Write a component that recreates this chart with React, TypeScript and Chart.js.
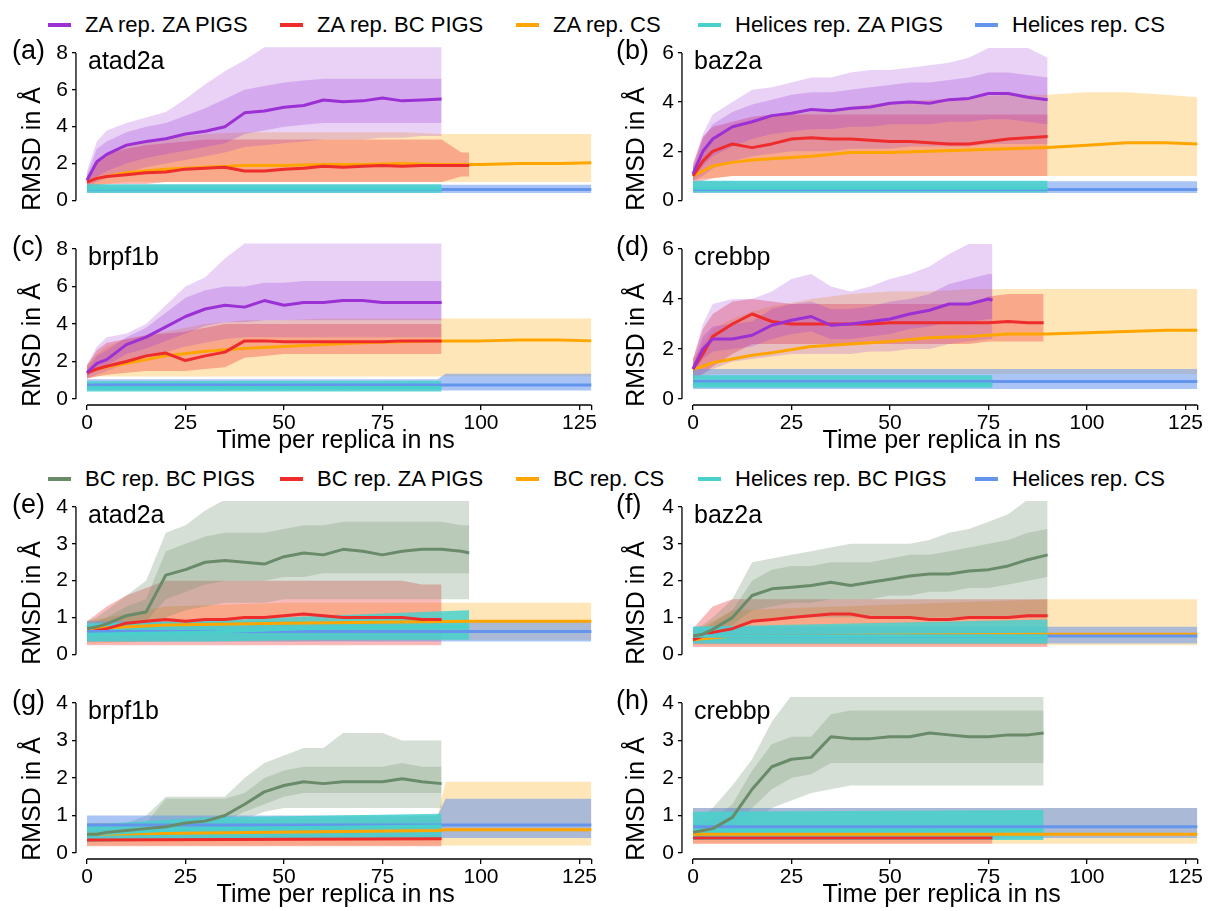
import React, { useEffect, useRef } from "react";
import { Chart, registerables } from "chart.js";
Chart.register(...registerables);

const FONT = '"Liberation Sans", Arial, Helvetica, sans-serif';

// ---------- axis / text data ----------
const X_TICKS = [0, 25, 50, 75, 100, 125];
const X_TICK_MARKS = [0, 25, 50, 75, 100, 125, 128];
const X_END = 128;
const Y_TICKS_8 = [0, 2, 4, 6, 8];
const Y_TICKS_6 = [0, 1, 2, 3, 4, 5, 6];
const Y_TICKS_4 = [0, 1, 2, 3, 4];
const X_TITLE = "Time per replica in ns";
const Y_TITLE = "RMSD in Å";
const LEGEND_TOP = ["ZA rep. ZA PIGS", "ZA rep. BC PIGS", "ZA rep. CS", "Helices rep. ZA PIGS", "Helices rep. CS"];
const LEGEND_BOTTOM = ["BC rep. BC PIGS", "BC rep. ZA PIGS", "BC rep. CS", "Helices rep. BC PIGS", "Helices rep. CS"];
const PANEL_LABELS = ["(a)", "(b)", "(c)", "(d)", "(e)", "(f)", "(g)", "(h)"];
const PANEL_NAMES = ["atad2a", "baz2a", "brpf1b", "crebbp", "atad2a", "baz2a", "brpf1b", "crebbp"];

// ---------- time grids (ns) ----------
const T90 = [0, 2.5, 5, 10, 15, 20, 25, 30, 35, 40, 45, 50, 55, 60, 65, 70, 75, 80, 85, 90];
const T97 = [0, 2.5, 5, 10, 15, 20, 25, 30, 35, 40, 45, 50, 55, 60, 65, 70, 75, 80, 85, 90, 95, 97];
const T76 = [0, 2.5, 5, 10, 15, 20, 25, 30, 35, 40, 45, 50, 55, 60, 65, 70, 75, 76];
const T89 = [0, 2.5, 5, 10, 15, 20, 25, 30, 35, 40, 45, 50, 55, 60, 65, 70, 75, 80, 85, 89];
const TCS = [0, 2.5, 5, 10, 15, 20, 30, 40, 50, 60, 70, 80, 90, 100, 110, 120, 128];

// ---------- (a) ZA, atad2a ----------
const A_ZA_MEAN = [1.1, 2.1, 2.5, 3.0, 3.2, 3.35, 3.6, 3.75, 4.0, 4.75, 4.85, 5.05, 5.15, 5.45, 5.35, 5.4, 5.55, 5.4, 5.45, 5.5];
const A_ZA_LO = [0.7, 1.0, 1.2, 1.5, 1.8, 2.0, 2.2, 2.4, 2.6, 2.9, 3.0, 3.1, 3.2, 3.3, 3.3, 3.3, 3.4, 3.4, 3.5, 3.5];
const A_ZA_HI = [1.6, 3.2, 3.8, 4.2, 4.5, 4.8, 5.5, 6.3, 7.0, 7.6, 8.3, 8.3, 8.3, 8.3, 8.3, 8.3, 8.3, 8.3, 8.3, 8.3];
const A_ZA_LO2 = [0.8, 1.3, 1.6, 2.0, 2.3, 2.5, 2.7, 2.9, 3.1, 3.6, 3.8, 4.0, 4.1, 4.2, 4.2, 4.2, 4.2, 4.2, 4.2, 4.2];
const A_ZA_HI2 = [1.4, 2.8, 3.2, 3.7, 4.0, 4.2, 4.6, 5.0, 5.5, 6.0, 6.2, 6.4, 6.5, 6.6, 6.6, 6.6, 6.6, 6.6, 6.6, 6.6];
const A_BC_MEAN = [1.0, 1.2, 1.3, 1.4, 1.5, 1.55, 1.7, 1.75, 1.8, 1.6, 1.6, 1.7, 1.75, 1.85, 1.8, 1.85, 1.9, 1.85, 1.9, 1.9, 1.9, 1.9];
const A_BC_LO = [0.7, 0.8, 0.9, 0.9, 0.9, 1.0, 1.0, 1.0, 1.0, 1.0, 1.0, 1.0, 1.0, 1.0, 1.0, 1.0, 1.0, 1.0, 1.0, 1.0, 1.3, 1.3];
const A_BC_HI = [1.3, 2.0, 2.5, 2.8, 3.0, 3.1, 3.2, 3.3, 3.3, 3.3, 3.3, 3.3, 3.3, 3.3, 3.3, 3.3, 3.3, 3.3, 3.3, 3.3, 2.6, 2.6];
const A_CS_MEAN = [1.0, 1.2, 1.3, 1.5, 1.6, 1.7, 1.8, 1.9, 1.9, 1.95, 1.95, 2.0, 1.95, 1.95, 2.0, 2.0, 2.05];
const A_CS_LO = [0.7, 0.8, 0.9, 1.0, 1.0, 1.0, 1.0, 1.0, 1.0, 1.0, 1.0, 1.0, 1.0, 1.0, 1.0, 1.0, 1.0];
const A_CS_HI = [1.3, 2.0, 2.5, 3.0, 3.2, 3.4, 3.6, 3.7, 3.7, 3.7, 3.7, 3.7, 3.6, 3.6, 3.6, 3.6, 3.6];
const A_HP_T = [0, 90];
const A_HP_MEAN = [0.62, 0.62];
const A_HP_LO = [0.42, 0.42];
const A_HP_HI = [0.88, 0.88];
const A_HC_T = [0, 128];
const A_HC_MEAN = [0.6, 0.6];
const A_HC_LO = [0.4, 0.4];
const A_HC_HI = [0.85, 0.85];

// ---------- (b) ZA, baz2a ----------
const B_ZA_MEAN = [1.08, 2.0, 2.5, 3.0, 3.2, 3.45, 3.55, 3.7, 3.65, 3.75, 3.8, 3.95, 4.0, 3.95, 4.1, 4.15, 4.35, 4.35, 4.2, 4.1];
const B_ZA_LO = [0.8, 1.0, 1.3, 1.6, 1.8, 1.9, 2.0, 2.0, 2.0, 2.1, 2.1, 2.1, 2.2, 2.2, 2.2, 2.2, 2.3, 2.3, 2.3, 2.3];
const B_ZA_HI = [1.4, 2.7, 3.5, 4.0, 4.5, 4.6, 4.8, 5.0, 5.0, 5.2, 5.3, 5.3, 5.4, 5.5, 5.6, 5.8, 6.2, 6.2, 6.2, 5.8];
const B_ZA_LO2 = [0.9, 1.4, 1.8, 2.2, 2.5, 2.7, 2.8, 2.9, 2.9, 3.0, 3.0, 3.1, 3.1, 3.1, 3.2, 3.2, 3.3, 3.3, 3.2, 3.1];
const B_ZA_HI2 = [1.3, 2.5, 3.1, 3.6, 3.9, 4.1, 4.3, 4.4, 4.4, 4.5, 4.6, 4.7, 4.8, 4.8, 4.9, 5.0, 5.2, 5.2, 5.1, 5.0];
const B_BC_MEAN = [1.0, 1.6, 2.0, 2.3, 2.15, 2.3, 2.5, 2.55, 2.5, 2.5, 2.45, 2.4, 2.4, 2.35, 2.3, 2.3, 2.4, 2.5, 2.55, 2.6];
const B_BC_LO = [0.7, 0.8, 0.9, 1.0, 1.0, 1.0, 1.0, 1.0, 1.0, 1.0, 1.0, 1.0, 1.0, 1.0, 1.0, 1.0, 1.0, 1.0, 1.0, 1.0];
const B_BC_HI = [1.5, 2.6, 3.0, 3.2, 3.4, 3.5, 3.5, 3.5, 3.5, 3.5, 3.5, 3.5, 3.5, 3.5, 3.5, 3.5, 3.5, 3.5, 3.5, 3.5];
const B_CS_MEAN = [1.0, 1.2, 1.4, 1.55, 1.65, 1.7, 1.8, 1.95, 1.95, 2.0, 2.05, 2.1, 2.15, 2.25, 2.35, 2.35, 2.3];
const B_CS_LO = [0.8, 0.9, 0.9, 1.0, 1.0, 1.0, 1.0, 1.0, 1.0, 1.0, 1.0, 1.0, 1.0, 1.0, 1.0, 1.0, 1.0];
const B_CS_HI = [1.3, 2.0, 2.6, 3.0, 3.2, 3.4, 3.6, 3.8, 4.0, 4.1, 4.2, 4.3, 4.3, 4.4, 4.4, 4.3, 4.2];
const B_HP_T = [0, 90];
const B_HP_MEAN = [0.5, 0.5];
const B_HP_LO = [0.33, 0.33];
const B_HP_HI = [0.8, 0.8];
const B_HC_T = [0, 128];
const B_HC_MEAN = [0.45, 0.45];
const B_HC_LO = [0.3, 0.3];
const B_HC_HI = [0.78, 0.78];

// ---------- (c) ZA, brpf1b ----------
const C_ZA_MEAN = [1.4, 1.9, 2.1, 2.9, 3.3, 3.85, 4.4, 4.8, 5.0, 4.9, 5.25, 5.0, 5.15, 5.15, 5.25, 5.25, 5.15, 5.15, 5.15, 5.15];
const C_ZA_LO = [1.1, 1.3, 1.5, 1.9, 2.2, 2.5, 2.8, 3.0, 3.2, 3.3, 3.3, 3.3, 3.3, 3.3, 3.3, 3.3, 3.3, 3.3, 3.3, 3.3];
const C_ZA_HI = [1.8, 2.8, 3.3, 3.5, 4.0, 5.0, 6.0, 6.5, 7.5, 8.3, 8.3, 8.3, 8.3, 8.3, 8.3, 8.3, 8.3, 8.3, 8.3, 8.3];
const C_ZA_LO2 = [1.2, 1.6, 1.8, 2.4, 2.7, 3.1, 3.5, 3.9, 4.1, 4.1, 4.2, 4.2, 4.2, 4.2, 4.2, 4.2, 4.2, 4.2, 4.2, 4.2];
const C_ZA_HI2 = [1.6, 2.3, 2.6, 3.3, 3.8, 4.6, 5.4, 5.8, 6.0, 6.0, 6.2, 6.2, 6.3, 6.3, 6.3, 6.3, 6.3, 6.3, 6.3, 6.3];
const C_BC_MEAN = [1.4, 1.6, 1.75, 2.0, 2.3, 2.45, 2.05, 2.3, 2.5, 3.1, 3.1, 3.05, 3.05, 3.05, 3.05, 3.05, 3.05, 3.1, 3.1, 3.1];
const C_BC_LO = [1.1, 1.2, 1.3, 1.4, 1.5, 1.5, 1.5, 1.6, 1.7, 2.2, 2.3, 2.4, 2.4, 2.4, 2.4, 2.4, 2.4, 2.4, 2.4, 2.4];
const C_BC_HI = [1.8, 2.6, 3.0, 3.2, 3.4, 3.5, 3.6, 3.8, 4.0, 4.0, 4.0, 4.0, 4.0, 4.0, 4.0, 4.0, 4.0, 4.0, 4.0, 4.0];
const C_CS_MEAN = [1.4, 1.6, 1.7, 1.9, 2.1, 2.3, 2.55, 2.7, 2.8, 2.9, 3.0, 3.05, 3.1, 3.1, 3.15, 3.15, 3.1];
const C_CS_LO = [1.1, 1.2, 1.2, 1.2, 1.2, 1.2, 1.2, 1.2, 1.2, 1.2, 1.2, 1.2, 1.2, 1.2, 1.2, 1.2, 1.2];
const C_CS_HI = [1.8, 2.4, 2.8, 3.2, 3.4, 3.6, 4.0, 4.2, 4.2, 4.3, 4.3, 4.3, 4.3, 4.3, 4.3, 4.3, 4.3];
const C_HP_T = [0, 90];
const C_HP_MEAN = [0.6, 0.62];
const C_HP_LO = [0.4, 0.4];
const C_HP_HI = [0.95, 0.98];
const C_HC_T = [0, 89, 91, 128];
const C_HC_MEAN = [0.75, 0.75, 0.75, 0.75];
const C_HC_LO = [0.45, 0.45, 0.45, 0.45];
const C_HC_HI = [1.05, 1.05, 1.35, 1.35];

// ---------- (d) ZA, crebbp ----------
const D_ZA_MEAN = [1.2, 2.0, 2.4, 2.4, 2.55, 2.95, 3.15, 3.3, 2.95, 3.0, 3.1, 3.2, 3.4, 3.55, 3.8, 3.8, 4.0, 3.95];
const D_ZA_LO = [0.8, 1.0, 1.2, 1.5, 1.6, 1.7, 1.8, 1.8, 1.8, 1.8, 1.9, 1.9, 2.0, 2.0, 2.2, 2.3, 2.4, 2.4];
const D_ZA_HI = [1.6, 3.0, 3.8, 4.0, 4.0, 4.3, 4.8, 5.0, 4.5, 4.3, 4.5, 4.8, 5.0, 5.3, 5.8, 6.2, 6.2, 6.2];
const D_ZA_LO2 = [1.0, 1.6, 1.9, 2.0, 2.1, 2.4, 2.6, 2.7, 2.4, 2.4, 2.5, 2.6, 2.8, 2.9, 3.1, 3.1, 3.2, 3.2];
const D_ZA_HI2 = [1.4, 2.5, 2.9, 3.0, 3.1, 3.6, 3.8, 3.9, 3.6, 3.6, 3.7, 3.9, 4.0, 4.2, 4.6, 4.8, 5.0, 5.0];
const D_BC_MEAN = [1.2, 1.8, 2.5, 3.0, 3.4, 3.1, 3.0, 3.0, 3.0, 3.0, 3.0, 3.05, 3.05, 3.05, 3.05, 3.05, 3.05, 3.1, 3.05, 3.05];
const D_BC_LO = [0.8, 1.0, 1.3, 1.8, 2.2, 2.2, 2.2, 2.2, 2.2, 2.2, 2.2, 2.2, 2.2, 2.2, 2.2, 2.2, 2.3, 2.3, 2.3, 2.3];
const D_BC_HI = [1.6, 2.8, 3.4, 3.9, 4.0, 3.9, 3.8, 3.8, 3.8, 3.8, 3.8, 3.8, 3.8, 3.8, 3.8, 3.8, 4.1, 4.2, 4.2, 4.2];
const D_CS_MEAN = [1.2, 1.3, 1.45, 1.6, 1.75, 1.85, 2.1, 2.2, 2.3, 2.45, 2.5, 2.6, 2.6, 2.65, 2.7, 2.75, 2.75];
const D_CS_LO = [0.8, 0.9, 1.0, 1.0, 1.0, 1.0, 1.0, 1.0, 1.0, 1.0, 1.0, 1.0, 1.0, 1.0, 1.0, 1.0, 1.0];
const D_CS_HI = [1.6, 2.2, 2.8, 3.2, 3.5, 3.7, 4.0, 4.2, 4.3, 4.3, 4.4, 4.4, 4.4, 4.4, 4.4, 4.4, 4.4];
const D_HP_T = [0, 76];
const D_HP_MEAN = [0.6, 0.6];
const D_HP_LO = [0.45, 0.45];
const D_HP_HI = [0.95, 0.95];
const D_HC_T = [0, 128];
const D_HC_MEAN = [0.7, 0.7];
const D_HC_LO = [0.4, 0.4];
const D_HC_HI = [1.2, 1.2];

// ---------- (e) BC, atad2a ----------
const E_BC_MEAN = [0.7, 0.75, 0.83, 1.05, 1.15, 2.15, 2.3, 2.5, 2.55, 2.5, 2.45, 2.65, 2.75, 2.7, 2.85, 2.8, 2.7, 2.8, 2.85, 2.85, 2.8, 2.75];
const E_BC_LO = [0.5, 0.5, 0.55, 0.6, 0.6, 1.0, 1.2, 1.3, 1.4, 1.4, 1.4, 1.5, 1.5, 1.5, 1.5, 1.5, 1.5, 1.5, 1.5, 1.5, 1.5, 1.5];
const E_BC_HI = [0.9, 1.0, 1.2, 1.6, 2.0, 3.3, 3.5, 3.9, 4.2, 4.2, 4.2, 4.2, 4.2, 4.2, 4.2, 4.2, 4.2, 4.2, 4.2, 4.2, 4.2, 4.2];
const E_BC_LO2 = [0.6, 0.6, 0.7, 0.8, 0.9, 1.5, 1.7, 1.9, 2.0, 2.0, 2.0, 2.1, 2.1, 2.2, 2.2, 2.2, 2.2, 2.2, 2.2, 2.2, 2.2, 2.2];
const E_BC_HI2 = [0.8, 0.9, 1.0, 1.3, 1.5, 2.8, 3.0, 3.2, 3.3, 3.3, 3.3, 3.4, 3.5, 3.5, 3.6, 3.6, 3.6, 3.6, 3.6, 3.6, 3.5, 3.5];
const E_ZA_MEAN = [0.6, 0.65, 0.7, 0.85, 0.9, 0.95, 0.9, 0.95, 0.95, 1.0, 1.0, 1.05, 1.1, 1.05, 1.0, 1.0, 1.0, 1.0, 0.95, 0.95];
const E_ZA_LO = [0.25, 0.25, 0.25, 0.25, 0.25, 0.25, 0.25, 0.25, 0.25, 0.25, 0.25, 0.25, 0.25, 0.25, 0.25, 0.25, 0.25, 0.25, 0.25, 0.25];
const E_ZA_HI = [0.9, 1.1, 1.3, 1.6, 1.8, 2.0, 2.0, 2.0, 2.0, 2.0, 2.0, 2.0, 2.0, 2.0, 2.0, 2.0, 2.0, 2.0, 1.9, 1.9];
const E_CS_T = [0, 20, 50, 97, 128];
const E_CS_MEAN = [0.7, 0.8, 0.85, 0.9, 0.9];
const E_CS_LO = [0.3, 0.35, 0.35, 0.4, 0.4];
const E_CS_HI = [0.9, 1.3, 1.4, 1.4, 1.4];
const E_HP_T = [0, 30, 60, 97];
const E_HP_MEAN = [0.55, 0.6, 0.72, 0.75];
const E_HP_LO = [0.35, 0.35, 0.4, 0.4];
const E_HP_HI = [0.85, 0.9, 1.05, 1.2];
const E_HC_T = [0, 128];
const E_HC_MEAN = [0.62, 0.62];
const E_HC_LO = [0.35, 0.35];
const E_HC_HI = [0.9, 0.9];

// ---------- (f) BC, baz2a ----------
const F_BC_MEAN = [0.5, 0.55, 0.68, 1.0, 1.6, 1.78, 1.82, 1.87, 1.96, 1.87, 1.96, 2.04, 2.13, 2.18, 2.18, 2.26, 2.3, 2.4, 2.57, 2.7];
const F_BC_LO = [0.35, 0.4, 0.45, 0.6, 0.9, 1.0, 1.0, 1.0, 1.0, 1.0, 1.0, 1.0, 1.0, 1.0, 1.0, 1.0, 1.0, 1.0, 1.0, 1.0];
const F_BC_HI = [0.7, 0.8, 1.0, 1.5, 2.5, 2.6, 2.7, 2.8, 2.9, 3.0, 3.0, 3.0, 3.0, 3.1, 3.3, 3.4, 3.6, 3.8, 4.2, 4.2];
const F_BC_LO2 = [0.4, 0.45, 0.55, 0.8, 1.2, 1.3, 1.4, 1.4, 1.5, 1.5, 1.5, 1.6, 1.6, 1.7, 1.7, 1.8, 1.8, 1.9, 2.0, 2.1];
const F_BC_HI2 = [0.6, 0.7, 0.85, 1.2, 2.0, 2.3, 2.4, 2.4, 2.5, 2.5, 2.5, 2.6, 2.7, 2.7, 2.8, 2.9, 3.0, 3.1, 3.3, 3.4];
const F_ZA_MEAN = [0.4, 0.5, 0.6, 0.7, 0.9, 0.95, 1.0, 1.05, 1.1, 1.1, 1.0, 1.0, 1.0, 0.95, 0.95, 1.0, 1.0, 1.0, 1.05, 1.05];
const F_ZA_LO = [0.2, 0.2, 0.2, 0.2, 0.2, 0.2, 0.2, 0.2, 0.2, 0.2, 0.2, 0.2, 0.2, 0.2, 0.2, 0.2, 0.2, 0.2, 0.2, 0.2];
const F_ZA_HI = [0.7, 1.0, 1.3, 1.5, 1.5, 1.5, 1.5, 1.5, 1.5, 1.5, 1.5, 1.5, 1.5, 1.5, 1.5, 1.5, 1.5, 1.5, 1.5, 1.5];
const F_CS_T = [0, 10, 90, 128];
const F_CS_MEAN = [0.4, 0.5, 0.55, 0.55];
const F_CS_LO = [0.25, 0.25, 0.25, 0.25];
const F_CS_HI = [0.6, 1.2, 1.5, 1.5];
const F_HP_T = [0, 90];
const F_HP_MEAN = [0.5, 0.5];
const F_HP_LO = [0.3, 0.3];
const F_HP_HI = [0.75, 0.95];
const F_HC_T = [0, 128];
const F_HC_MEAN = [0.5, 0.5];
const F_HC_LO = [0.3, 0.3];
const F_HC_HI = [0.75, 0.75];

// ---------- (g) BC, brpf1b ----------
const G_BC_MEAN = [0.5, 0.5, 0.55, 0.6, 0.65, 0.7, 0.8, 0.85, 1.0, 1.3, 1.63, 1.8, 1.9, 1.85, 1.9, 1.9, 1.9, 1.98, 1.9, 1.85];
const G_BC_LO = [0.3, 0.3, 0.35, 0.35, 0.4, 0.4, 0.4, 0.4, 0.5, 0.9, 1.1, 1.2, 1.2, 1.2, 1.2, 1.2, 1.2, 1.2, 1.2, 1.2];
const G_BC_HI = [0.8, 0.8, 0.8, 0.8, 1.0, 1.5, 1.5, 1.5, 1.5, 2.0, 2.4, 2.6, 2.8, 2.8, 3.2, 3.2, 3.2, 3.0, 3.0, 3.0];
const G_BC_LO2 = [0.4, 0.4, 0.45, 0.5, 0.55, 0.6, 0.7, 0.75, 0.85, 1.1, 1.3, 1.5, 1.6, 1.6, 1.6, 1.6, 1.6, 1.6, 1.6, 1.6];
const G_BC_HI2 = [0.6, 0.6, 0.65, 0.7, 0.8, 1.45, 1.45, 1.45, 1.45, 1.6, 2.0, 2.2, 2.3, 2.3, 2.3, 2.3, 2.3, 2.4, 2.3, 2.3];
const G_ZA_T = [0, 90];
const G_ZA_MEAN = [0.35, 0.38];
const G_ZA_LO = [0.18, 0.18];
const G_ZA_HI = [0.6, 0.9];
const G_CS_T = [0, 89, 91, 128];
const G_CS_MEAN = [0.5, 0.6, 0.62, 0.62];
const G_CS_LO = [0.2, 0.2, 0.2, 0.2];
const G_CS_HI = [0.8, 1.0, 1.9, 1.9];
const G_HP_T = [0, 30, 90];
const G_HP_MEAN = [0.5, 0.65, 0.72];
const G_HP_LO = [0.3, 0.35, 0.4];
const G_HP_HI = [0.75, 0.95, 1.05];
const G_HC_T = [0, 89, 91, 128];
const G_HC_MEAN = [0.75, 0.75, 0.75, 0.75];
const G_HC_LO = [0.4, 0.4, 0.4, 0.4];
const G_HC_HI = [1.0, 1.0, 1.45, 1.45];

// ---------- (h) BC, crebbp ----------
const H_BC_MEAN = [0.55, 0.6, 0.65, 0.95, 1.7, 2.3, 2.5, 2.55, 3.1, 3.05, 3.05, 3.1, 3.1, 3.2, 3.15, 3.1, 3.1, 3.15, 3.15, 3.2];
const H_BC_LO = [0.4, 0.4, 0.4, 0.5, 0.8, 1.2, 1.4, 1.6, 1.7, 1.8, 1.8, 1.8, 1.8, 1.8, 1.8, 1.8, 1.8, 1.8, 1.8, 1.8];
const H_BC_HI = [0.8, 1.0, 1.2, 1.8, 2.5, 3.5, 4.2, 4.2, 4.2, 4.2, 4.2, 4.2, 4.2, 4.2, 4.2, 4.2, 4.2, 4.2, 4.2, 4.2];
const H_BC_LO2 = [0.45, 0.5, 0.55, 0.7, 1.2, 1.7, 2.0, 2.1, 2.4, 2.4, 2.4, 2.4, 2.4, 2.4, 2.4, 2.4, 2.4, 2.4, 2.4, 2.4];
const H_BC_HI2 = [0.7, 0.8, 0.9, 1.3, 2.2, 2.9, 3.1, 3.1, 3.7, 3.8, 3.8, 3.8, 3.8, 3.8, 3.8, 3.8, 3.8, 3.8, 3.8, 3.8];
const H_ZA_T = [0, 76];
const H_ZA_MEAN = [0.4, 0.4];
const H_ZA_LO = [0.25, 0.25];
const H_ZA_HI = [0.55, 0.55];
const H_CS_T = [0, 128];
const H_CS_MEAN = [0.5, 0.5];
const H_CS_LO = [0.25, 0.25];
const H_CS_HI = [1.2, 1.2];
const H_HP_T = [0, 89];
const H_HP_MEAN = [0.6, 0.62];
const H_HP_LO = [0.35, 0.35];
const H_HP_HI = [1.1, 1.15];
const H_HC_T = [0, 128];
const H_HC_MEAN = [0.7, 0.7];
const H_HC_LO = [0.4, 0.4];
const H_HC_HI = [1.2, 1.2];

// ---------- styles ----------
const PURPLE = "#9b30d4";
const RED = "#ee2c2c";
const ORANGE = "#ffa500";
const CYAN = "#48d1cc";
const BLUE = "#6495ed";
const GREEN = "#698b69";
const BAND = {
  purple: "rgba(155,48,212,0.22)",
  purple2: "rgba(155,48,212,0.25)",
  red: "rgba(238,44,44,0.33)",
  orange: "rgba(255,165,0,0.28)",
  cyan: "rgba(72,209,204,0.85)",
  blue: "rgba(100,149,237,0.55)",
  green: "rgba(105,139,105,0.28)",
  green2: "rgba(105,139,105,0.25)",
};
const LEGEND_COLORS_TOP = [PURPLE, RED, ORANGE, CYAN, BLUE];
const LEGEND_COLORS_BOTTOM = [GREEN, RED, ORANGE, CYAN, BLUE];

type Series = { color: string; band: string; t: number[]; mean: number[]; lo: number[]; hi: number[]; band2?: string; lo2?: number[]; hi2?: number[] };
const ser = (color: string, band: string, t: number[], mean: number[], lo: number[], hi: number[], band2?: string, lo2?: number[], hi2?: number[]): Series =>
  ({ color, band, t, mean, lo, hi, band2, lo2, hi2 });

type Panel = { idx: number; col: number; yM: number; yMax: number; yTicks: number[]; showX: boolean; series: Series[] };

// series listed bottom -> top: CS, other PIGS, main PIGS, helices CS, helices PIGS
const PANELS: Panel[] = [
  { idx: 0, col: 0, yM: 53, yMax: 8, yTicks: Y_TICKS_8, showX: false, series: [
    ser(ORANGE, BAND.orange, TCS, A_CS_MEAN, A_CS_LO, A_CS_HI),
    ser(RED, BAND.red, T97, A_BC_MEAN, A_BC_LO, A_BC_HI),
    ser(PURPLE, BAND.purple, T90, A_ZA_MEAN, A_ZA_LO, A_ZA_HI, BAND.purple2, A_ZA_LO2, A_ZA_HI2),
    ser(BLUE, BAND.blue, A_HC_T, A_HC_MEAN, A_HC_LO, A_HC_HI),
    ser(CYAN, BAND.cyan, A_HP_T, A_HP_MEAN, A_HP_LO, A_HP_HI),
  ] },
  { idx: 1, col: 1, yM: 53, yMax: 6, yTicks: Y_TICKS_6, showX: false, series: [
    ser(ORANGE, BAND.orange, TCS, B_CS_MEAN, B_CS_LO, B_CS_HI),
    ser(RED, BAND.red, T90, B_BC_MEAN, B_BC_LO, B_BC_HI),
    ser(PURPLE, BAND.purple, T90, B_ZA_MEAN, B_ZA_LO, B_ZA_HI, BAND.purple2, B_ZA_LO2, B_ZA_HI2),
    ser(BLUE, BAND.blue, B_HC_T, B_HC_MEAN, B_HC_LO, B_HC_HI),
    ser(CYAN, BAND.cyan, B_HP_T, B_HP_MEAN, B_HP_LO, B_HP_HI),
  ] },
  { idx: 2, col: 0, yM: 249, yMax: 8, yTicks: Y_TICKS_8, showX: true, series: [
    ser(ORANGE, BAND.orange, TCS, C_CS_MEAN, C_CS_LO, C_CS_HI),
    ser(RED, BAND.red, T90, C_BC_MEAN, C_BC_LO, C_BC_HI),
    ser(PURPLE, BAND.purple, T90, C_ZA_MEAN, C_ZA_LO, C_ZA_HI, BAND.purple2, C_ZA_LO2, C_ZA_HI2),
    ser(BLUE, BAND.blue, C_HC_T, C_HC_MEAN, C_HC_LO, C_HC_HI),
    ser(CYAN, BAND.cyan, C_HP_T, C_HP_MEAN, C_HP_LO, C_HP_HI),
  ] },
  { idx: 3, col: 1, yM: 249, yMax: 6, yTicks: Y_TICKS_6, showX: true, series: [
    ser(ORANGE, BAND.orange, TCS, D_CS_MEAN, D_CS_LO, D_CS_HI),
    ser(RED, BAND.red, T89, D_BC_MEAN, D_BC_LO, D_BC_HI),
    ser(PURPLE, BAND.purple, T76, D_ZA_MEAN, D_ZA_LO, D_ZA_HI, BAND.purple2, D_ZA_LO2, D_ZA_HI2),
    ser(BLUE, BAND.blue, D_HC_T, D_HC_MEAN, D_HC_LO, D_HC_HI),
    ser(CYAN, BAND.cyan, D_HP_T, D_HP_MEAN, D_HP_LO, D_HP_HI),
  ] },
  { idx: 4, col: 0, yM: 507, yMax: 4, yTicks: Y_TICKS_4, showX: false, series: [
    ser(ORANGE, BAND.orange, E_CS_T, E_CS_MEAN, E_CS_LO, E_CS_HI),
    ser(RED, BAND.red, T90, E_ZA_MEAN, E_ZA_LO, E_ZA_HI),
    ser(GREEN, BAND.green, T97, E_BC_MEAN, E_BC_LO, E_BC_HI, BAND.green2, E_BC_LO2, E_BC_HI2),
    ser(BLUE, BAND.blue, E_HC_T, E_HC_MEAN, E_HC_LO, E_HC_HI),
    ser(CYAN, BAND.cyan, E_HP_T, E_HP_MEAN, E_HP_LO, E_HP_HI),
  ] },
  { idx: 5, col: 1, yM: 507, yMax: 4, yTicks: Y_TICKS_4, showX: false, series: [
    ser(ORANGE, BAND.orange, F_CS_T, F_CS_MEAN, F_CS_LO, F_CS_HI),
    ser(RED, BAND.red, T90, F_ZA_MEAN, F_ZA_LO, F_ZA_HI),
    ser(GREEN, BAND.green, T90, F_BC_MEAN, F_BC_LO, F_BC_HI, BAND.green2, F_BC_LO2, F_BC_HI2),
    ser(BLUE, BAND.blue, F_HC_T, F_HC_MEAN, F_HC_LO, F_HC_HI),
    ser(CYAN, BAND.cyan, F_HP_T, F_HP_MEAN, F_HP_LO, F_HP_HI),
  ] },
  { idx: 6, col: 0, yM: 703, yMax: 4, yTicks: Y_TICKS_4, showX: true, series: [
    ser(ORANGE, BAND.orange, G_CS_T, G_CS_MEAN, G_CS_LO, G_CS_HI),
    ser(RED, BAND.red, G_ZA_T, G_ZA_MEAN, G_ZA_LO, G_ZA_HI),
    ser(GREEN, BAND.green, T90, G_BC_MEAN, G_BC_LO, G_BC_HI, BAND.green2, G_BC_LO2, G_BC_HI2),
    ser(BLUE, BAND.blue, G_HC_T, G_HC_MEAN, G_HC_LO, G_HC_HI),
    ser(CYAN, BAND.cyan, G_HP_T, G_HP_MEAN, G_HP_LO, G_HP_HI),
  ] },
  { idx: 7, col: 1, yM: 703, yMax: 4, yTicks: Y_TICKS_4, showX: true, series: [
    ser(ORANGE, BAND.orange, H_CS_T, H_CS_MEAN, H_CS_LO, H_CS_HI),
    ser(RED, BAND.red, H_ZA_T, H_ZA_MEAN, H_ZA_LO, H_ZA_HI),
    ser(GREEN, BAND.green, T89, H_BC_MEAN, H_BC_LO, H_BC_HI, BAND.green2, H_BC_LO2, H_BC_HI2),
    ser(BLUE, BAND.blue, H_HC_T, H_HC_MEAN, H_HC_LO, H_HC_HI),
    ser(CYAN, BAND.cyan, H_HP_T, H_HP_MEAN, H_HP_LO, H_HP_HI),
  ] },
];
const MEAN_ORDER = [0, 1, 3, 4, 2];

// ---------- layout ----------
const SPAN = 150; // px between 0 and top tick
const PXNS = 3.94; // px per ns
const X0 = [87, 693]; // page x of t = 0
const COL_LEFT = [0, 604];
const COL_W = 604;
const XMIN = -2.8;
const XMAX = 129;
const X_AXIS_H = 51;
const LEG_X = [48, 280, 516, 698, 975];

function geometry(p: Panel) {
  const left = COL_LEFT[p.col];
  const top = p.yM - 36;
  const chartTop = p.yM - 0.04 * SPAN;
  const chartBottom = p.yM + SPAN + 0.04 * SPAN;
  const chartLeft = X0[p.col] + XMIN * PXNS;
  const chartRight = X0[p.col] + XMAX * PXNS;
  const padBottom = 14;
  const h = chartBottom - top + (p.showX ? X_AXIS_H : padBottom);
  return {
    left, top, h,
    padTop: chartTop - top,
    padBottom,
    padRight: left + COL_W - chartRight,
    yW: chartLeft - left,
    labelX: 12,
    nameX: X0[p.col] + 1 - left,
    titleX: 33,
  };
}

const rAxes = {
  id: "rAxes",
  afterDraw(chart: any, _args: any, opts: any) {
    const { ctx, chartArea, scales } = chart;
    const xs = scales.x;
    const ys = scales.y;
    ctx.save();
    ctx.strokeStyle = "#000";
    ctx.lineWidth = 1.3;
    ctx.beginPath();
    ctx.moveTo(chartArea.left, ys.getPixelForValue(0));
    ctx.lineTo(chartArea.left, ys.getPixelForValue(opts.yMax));
    ctx.stroke();
    if (opts.showX) {
      ctx.beginPath();
      ctx.moveTo(xs.getPixelForValue(0), chartArea.bottom);
      ctx.lineTo(xs.getPixelForValue(X_END), chartArea.bottom);
      ctx.stroke();
    }
    ctx.fillStyle = "#000";
    ctx.textBaseline = "alphabetic";
    ctx.textAlign = "left";
    const top = ys.getPixelForValue(opts.yMax);
    ctx.font = `27px ${FONT}`;
    ctx.fillText(opts.label, opts.labelX, top + 6);
    ctx.font = `25px ${FONT}`;
    ctx.fillText(opts.name, opts.nameX, top + 16);
    // y-axis title
    ctx.save();
    ctx.translate(opts.titleX, top + 96);
    ctx.rotate(-Math.PI / 2);
    ctx.textAlign = "center";
    ctx.textBaseline = "middle";
    ctx.font = `25px ${FONT}`;
    ctx.fillText(Y_TITLE, 0, 0);
    ctx.restore();
    ctx.restore();
  },
};

function PanelChart({ p }: { p: Panel }) {
  const ref = useRef<HTMLCanvasElement>(null);
  const g = geometry(p);
  useEffect(() => {
    const datasets: any[] = [];
    p.series.forEach((s, i) => {
      const ord = 100 - i;
      const base = { borderColor: "rgba(0,0,0,0)", borderWidth: 0, pointRadius: 0, tension: 0, order: ord };
      datasets.push({ ...base, data: s.t.map((x, j) => ({ x, y: s.lo[j] })), fill: false });
      datasets.push({ ...base, data: s.t.map((x, j) => ({ x, y: s.hi[j] })), fill: "-1", backgroundColor: s.band });
      if (s.lo2 && s.hi2) {
        const lo2 = s.lo2, hi2 = s.hi2;
        datasets.push({ ...base, data: s.t.map((x, j) => ({ x, y: lo2[j] })), fill: false });
        datasets.push({ ...base, data: s.t.map((x, j) => ({ x, y: hi2[j] })), fill: "-1", backgroundColor: s.band2 });
      }
    });
    MEAN_ORDER.forEach((si, k) => {
      const s = p.series[si];
      datasets.push({
        data: s.t.map((x, j) => ({ x, y: s.mean[j] })),
        borderColor: s.color, borderWidth: 3, pointRadius: 0, tension: 0, fill: false,
        borderJoinStyle: "round", borderCapStyle: "butt", order: 50 - k,
      });
    });
    const tickFont = { family: FONT, size: 21 };
    const titleFont = { family: FONT, size: 25 };
    const xScale: any = {
      type: "linear", min: XMIN, max: XMAX, display: p.showX,
      afterBuildTicks: (s: any) => { s.ticks = X_TICK_MARKS.map((v) => ({ value: v })); },
      ticks: { autoSkip: false, maxRotation: 0, minRotation: 0, font: tickFont, color: "#000", padding: 1,
        callback: (v: any) => (X_TICKS.includes(Number(v)) ? String(v) : "") },
      grid: { display: true, drawOnChartArea: false, drawTicks: true, tickLength: 5, color: "#000", lineWidth: 1.3 },
      border: { display: false },
      title: { display: true, text: X_TITLE, font: titleFont, color: "#000", padding: { top: 0, bottom: 0 } },
    };
    if (p.showX) xScale.afterFit = (s: any) => { s.height = X_AXIS_H; };
    const chart = new Chart(ref.current as HTMLCanvasElement, {
      type: "line",
      data: { datasets },
      options: {
        animation: false,
        responsive: false,
        devicePixelRatio: 1,
        events: [],
        layout: { padding: { top: g.padTop, bottom: p.showX ? 0 : g.padBottom, left: 0, right: g.padRight } },
        plugins: {
          legend: { display: false },
          tooltip: { enabled: false },
          rAxes: { yMax: p.yMax, showX: p.showX, label: PANEL_LABELS[p.idx], name: PANEL_NAMES[p.idx], labelX: g.labelX, nameX: g.nameX, titleX: g.titleX },
        } as any,
        scales: {
          x: xScale,
          y: {
            type: "linear", min: -0.04 * p.yMax, max: 1.04 * p.yMax,
            afterBuildTicks: (s: any) => { s.ticks = p.yTicks.map((v) => ({ value: v })); },
            afterFit: (s: any) => { s.width = g.yW; },
            ticks: { font: tickFont, color: "#000", padding: 4, callback: (v: any) => String(v) },
            grid: { display: true, drawOnChartArea: false, drawTicks: true, tickLength: 4, color: "#000", lineWidth: 1.3 },
            border: { display: false },
            title: { display: false },
          },
        } as any,
      },
      plugins: [rAxes as any],
    });
    return () => chart.destroy();
  }, []);
  return (
    <canvas ref={ref} width={COL_W} height={Math.round(g.h)}
      style={{ position: "absolute", left: g.left, top: g.top, width: COL_W, height: Math.round(g.h) }} />
  );
}

function Legend({ items, colors, cy }: { items: string[]; colors: string[]; cy: number }) {
  return (
    <>
      {items.map((txt, i) => (
        <React.Fragment key={i}>
          <div style={{ position: "absolute", left: LEG_X[i], top: cy - 2, width: 23, height: 4, background: colors[i] }} />
          <div style={{ position: "absolute", left: LEG_X[i] + 37, top: cy - 10.5, fontFamily: FONT, fontSize: 22, lineHeight: "22px", whiteSpace: "nowrap", color: "#000" }}>{txt}</div>
        </React.Fragment>
      ))}
    </>
  );
}

export default function App() {
  return (
    <div style={{ position: "absolute", left: 0, top: 0, width: 1208, height: 911, background: "#fff", overflow: "hidden" }}>
      <Legend items={LEGEND_TOP} colors={LEGEND_COLORS_TOP} cy={24.5} />
      <Legend items={LEGEND_BOTTOM} colors={LEGEND_COLORS_BOTTOM} cy={478.5} />
      {PANELS.map((p) => <PanelChart key={p.idx} p={p} />)}
    </div>
  );
}
